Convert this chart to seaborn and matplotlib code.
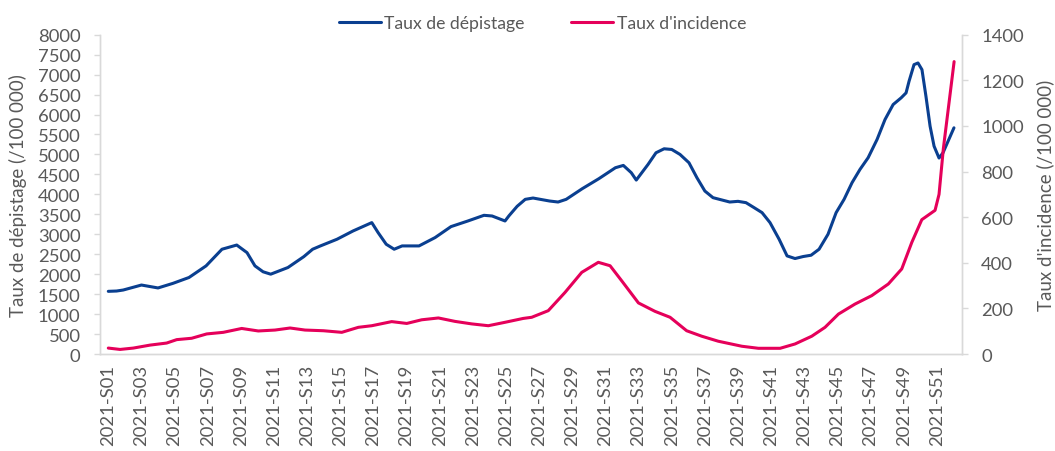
import matplotlib
matplotlib.use("Agg")
import matplotlib.pyplot as plt
import numpy as np
import pandas as pd
import seaborn as sns

# week labels on the x axis
semaines = [f"2021-S{i:02d}" for i in range(1, 53)]

# taux de depistage (left axis), sliding weekly values
sem_dep = [1.0, 1.5, 1.9, 3.0, 4.0, 4.9, 5.87, 6.9, 7.86, 8.75, 9.37, 9.85,
           10.34, 10.8, 11.84, 12.8, 13.33, 13.8, 14.8, 15.77, 16.9, 17.28,
           17.77, 18.25, 18.73, 19.75, 20.72, 21.68, 22.7, 23.67, 24.16, 24.94,
           25.18, 25.67, 26.16, 26.63, 27.63, 28.14, 28.63, 29.6, 30.6, 31.6,
           32.08, 32.56, 32.86, 33.57, 34.05, 34.54, 35.0, 35.5, 36.04, 36.52,
           37.0, 37.49, 38.5, 39.0, 39.48, 39.97, 40.45, 40.93, 41.48, 41.96,
           42.44, 42.93, 43.41, 43.89, 44.43, 44.92, 45.4, 45.88, 46.36, 46.85,
           47.39, 47.87, 48.36, 48.84, 49.14, 49.32, 49.62, 49.86, 50.1, 50.34,
           50.59, 50.83, 51.13, 51.37, 52.03]
taux_depistage = [1570, 1578, 1603, 1728, 1655, 1770, 1917, 2208, 2625, 2730,
                  2540, 2208, 2060, 2000, 2167, 2440, 2625, 2708, 2875, 3083,
                  3292, 3042, 2750, 2625, 2708, 2708, 2917, 3192, 3333, 3475,
                  3458, 3333, 3464, 3700, 3875, 3908, 3833, 3808, 3875, 4142,
                  4392, 4667, 4725, 4542, 4358, 4750, 5042, 5142, 5125, 5000,
                  4792, 4417, 4083, 3917, 3808, 3825, 3792, 3667, 3542, 3292,
                  2875, 2458, 2392, 2442, 2475, 2625, 3000, 3542, 3875, 4292,
                  4625, 4917, 5375, 5875, 6250, 6417, 6542, 6833, 7250, 7292,
                  7125, 6458, 5708, 5208, 4910, 5042, 5667]

# taux d'incidence (right axis)
sem_inc = [1.0, 1.71, 2.51, 3.52, 4.52, 5.13, 6.03, 6.94, 7.94, 9.05, 10.05,
           11.06, 11.97, 12.87, 13.98, 15.09, 16.09, 16.9, 18.1, 19.01, 19.91,
           20.92, 21.92, 22.93, 23.93, 24.94, 26.04, 26.55, 27.55, 28.56,
           29.57, 30.57, 31.28, 31.98, 32.99, 33.99, 34.9, 35.9, 36.81, 37.81,
           39.23, 40.23, 41.54, 42.44, 43.45, 44.25, 45.06, 46.06, 47.07,
           48.07, 48.88, 49.49, 50.09, 50.89, 51.13, 51.39, 52.04]
taux_incidence = [26, 20, 26, 39, 48, 63, 69, 88, 95, 112, 101, 105, 114, 105,
                  102, 95, 117, 124, 142, 134, 150, 158, 143, 132, 124, 139,
                  156, 161, 190, 270, 358, 402, 387, 321, 224, 187, 161, 102,
                  78, 56, 34, 25, 25, 44, 78, 117, 175, 219, 256, 307, 373,
                  490, 589, 630, 700, 900, 1282]

bleu = "#0a3f90"
rouge = "#e5005a"
gris = "#595959"

sns.set_style("white")
plt.rcParams["font.family"] = ["Lato", "DejaVu Sans"]

fig = plt.figure(figsize=(10.55, 4.52), dpi=100)
ax = fig.add_axes([0.0948, 0.2146, 0.8168, 0.7064])
ax2 = ax.twinx()

df_dep = pd.DataFrame({"semaine": sem_dep, "taux": taux_depistage})
df_inc = pd.DataFrame({"semaine": sem_inc, "taux": taux_incidence})

sns.lineplot(data=df_dep, x="semaine", y="taux", ax=ax, color=bleu,
             linewidth=2.2, sort=False, estimator=None,
             label="Taux de dépistage", legend=False)
sns.lineplot(data=df_inc, x="semaine", y="taux", ax=ax2, color=rouge,
             linewidth=2.2, sort=False, estimator=None,
             label="Taux d'incidence", legend=False)
for l in ax.lines + ax2.lines:
    l.set_solid_joinstyle("round")
    l.set_solid_capstyle("round")

ax.set_xlim(0.5, 52.5)
ax.set_ylim(0, 8000)
ax2.set_ylim(0, 1400)
ax.set_yticks(np.arange(0, 8001, 500))
ax2.set_yticks(np.arange(0, 1401, 200))

ax.set_xticks(np.arange(1, 53, 2))
ax.set_xticklabels(semaines[::2], rotation=90)
ax.set_xticks(np.arange(0.5, 53, 1), minor=True)
ax.tick_params(axis="x", which="major", length=0, pad=7, labelsize=13.3,
               labelcolor=gris)
ax.tick_params(axis="x", which="minor", length=6, width=1, color="#d9d9d9",
               direction="out")
ax.tick_params(axis="y", length=4, width=1, color="#d9d9d9", pad=10,
               labelsize=13.3, labelcolor=gris)
ax2.tick_params(axis="y", length=4, width=1, color="#d9d9d9", pad=10,
                labelsize=13.3, labelcolor=gris)

for a in (ax, ax2):
    for s in a.spines.values():
        s.set_color("#d9d9d9")
        s.set_linewidth(1)
    a.spines["top"].set_visible(False)
    a.grid(False)

ax.set_xlabel("")
ax.set_ylabel("Taux de dépistage (/100 000)", fontsize=13.5, color=gris)
ax2.set_ylabel("Taux d'incidence (/100 000)", fontsize=13.5, color=gris)
ax.yaxis.set_label_coords(-0.085, 0.5)
ax2.yaxis.set_label_coords(1.086, 0.5)

handles = ax.lines[:1] + ax2.lines[:1]
fig.legend(handles, ["Taux de dépistage", "Taux d'incidence"],
           loc="upper center", bbox_to_anchor=(0.514, 1.0), ncol=2,
           frameon=False, fontsize=12.7, handlelength=2.4, handletextpad=0.2,
           columnspacing=2.6, labelcolor=gris)

fig.savefig("out.png", dpi=100)
